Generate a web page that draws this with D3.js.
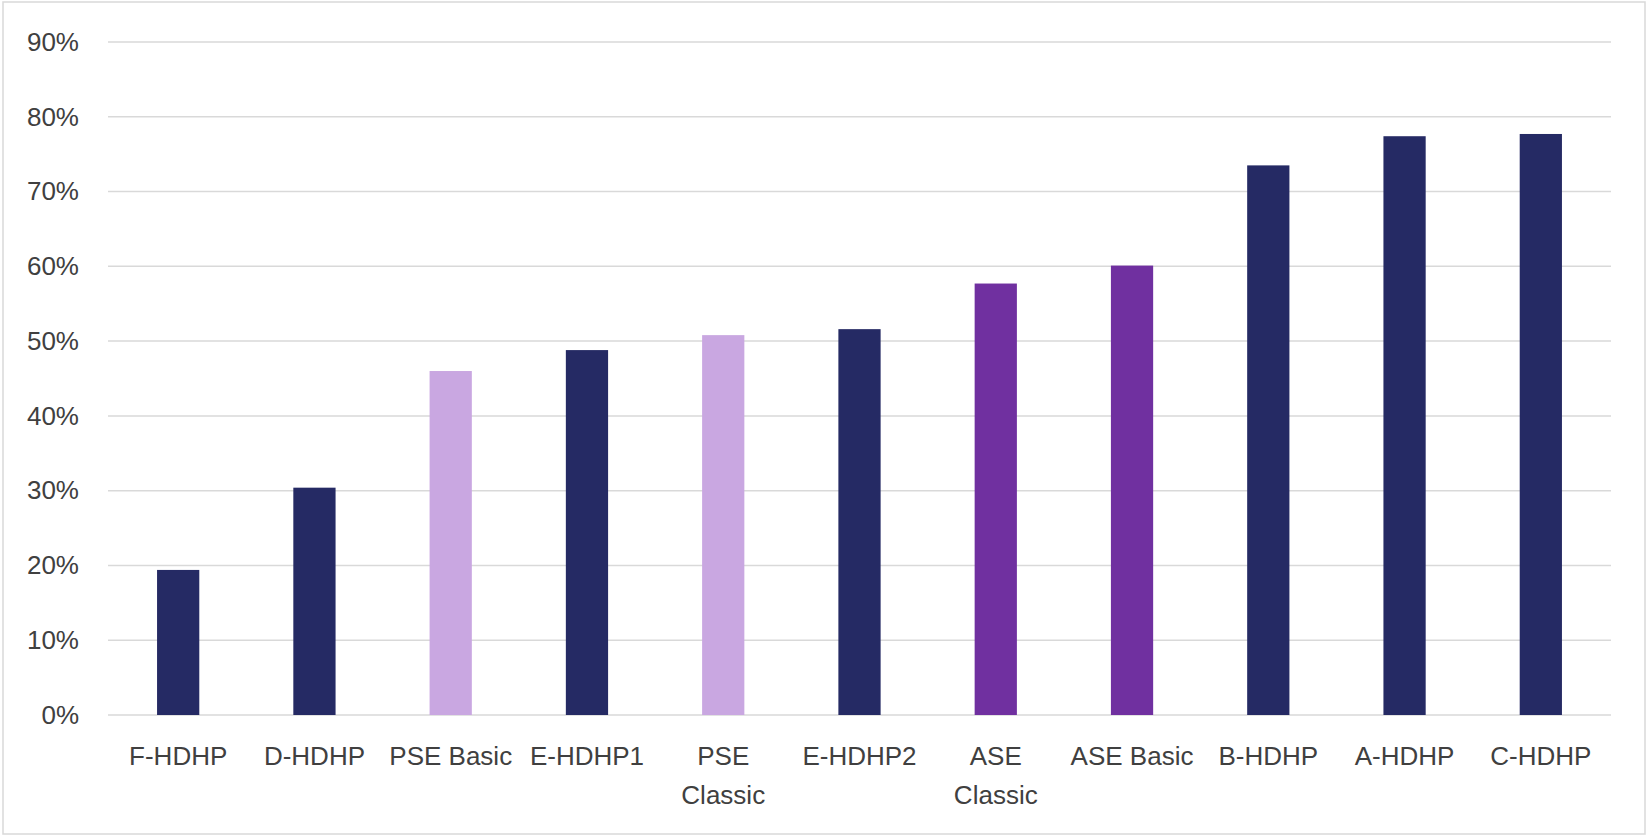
<!DOCTYPE html>
<html>
<head>
<meta charset="utf-8">
<script src="https://cdn.jsdelivr.net/npm/d3@7"></script>
<style>
  body { margin: 0; background: #fff; }
  svg { display: block; }
</style>
</head>
<body>
<div id="chart"></div>
<script>
let width = 1647;
let height = 835;
let margin = ({top: 42, right: 36, bottom: 120, left: 108});

// data
let plans = ["F-HDHP", "D-HDHP", "PSE Basic", "E-HDHP1", "PSE Classic", "E-HDHP2",
             "ASE Classic", "ASE Basic", "B-HDHP", "A-HDHP", "C-HDHP"];
let shares = [19.4, 30.4, 46.0, 48.8, 50.8, 51.6, 57.7, 60.1, 73.5, 77.4, 77.7];
let planGroup = ["hdhp", "hdhp", "pse", "hdhp", "pse", "hdhp",
                 "ase", "ase", "hdhp", "hdhp", "hdhp"];
// labels that wrap onto two lines
let wrapLabels = {"PSE Classic": ["PSE", "Classic"], "ASE Classic": ["ASE", "Classic"]};
let yTicks = [0, 10, 20, 30, 40, 50, 60, 70, 80, 90];

let color = d3.scaleOrdinal()
    .domain(["hdhp", "pse", "ase"])
    .range(["#252a64", "#c9a7e1", "#7030a0"]);

let data = plans.map((p, i) => ({plan: p, value: shares[i], group: planGroup[i]}));

let x = d3.scaleBand()
    .domain(plans)
    .range([margin.left, width - margin.right])
    .paddingInner(0.69)
    .paddingOuter(0.36);

let y = d3.scaleLinear()
    .domain([0, 90])
    .range([715, margin.top]);

let svg = d3.select("#chart")
    .append("svg")
    .attr("width", width)
    .attr("height", height);

// outer frame
svg.append("rect")
    .attr("x", 3).attr("y", 2)
    .attr("width", width - 5).attr("height", height - 3)
    .attr("fill", "#fff")
    .attr("stroke", "#d9d9d9")
    .attr("stroke-width", 1.5);

// grid lines
svg.append("g")
    .selectAll("line")
    .data(yTicks)
    .join("line")
    .attr("x1", margin.left)
    .attr("x2", width - margin.right)
    .attr("y1", d => y(d))
    .attr("y2", d => y(d))
    .attr("stroke", "#d9d9d9")
    .attr("stroke-width", 1.5);

// y axis labels
let yAxis = g => g
    .attr("transform", `translate(${margin.left - 26},0)`)
    .call(d3.axisLeft(y).tickValues(yTicks).tickFormat(d => d + "%").tickSize(0))
    .call(g => g.select(".domain").remove())
    .call(g => g.selectAll("text")
        .attr("font-family", "'Liberation Sans', Arial, sans-serif")
        .attr("font-size", 26)
        .attr("fill", "#404040"));
svg.append("g").call(yAxis);

// bars
svg.append("g")
    .selectAll("rect")
    .data(data)
    .join("rect")
    .attr("x", d => x(d.plan))
    .attr("y", d => y(d.value))
    .attr("width", x.bandwidth())
    .attr("height", d => y(0) - y(d.value))
    .attr("fill", d => color(d.group));

// x axis labels
let xAxis = g => g
    .attr("transform", `translate(0,${y(0)})`)
    .call(d3.axisBottom(x).tickSize(0).tickPadding(50))
    .call(g => g.select(".domain").remove())
    .call(g => g.selectAll("text")
        .attr("font-family", "'Liberation Sans', Arial, sans-serif")
        .attr("font-size", 26)
        .attr("fill", "#404040")
        .attr("dy", null)
        .each(function(d) {
            let lines = wrapLabels[d];
            if (!lines) return;
            let t = d3.select(this).text(null);
            lines.forEach((l, i) => t.append("tspan")
                .attr("x", 0)
                .attr("dy", i === 0 ? 0 : 39)
                .text(l));
        }));
svg.append("g").call(xAxis);
</script>
</body>
</html>
